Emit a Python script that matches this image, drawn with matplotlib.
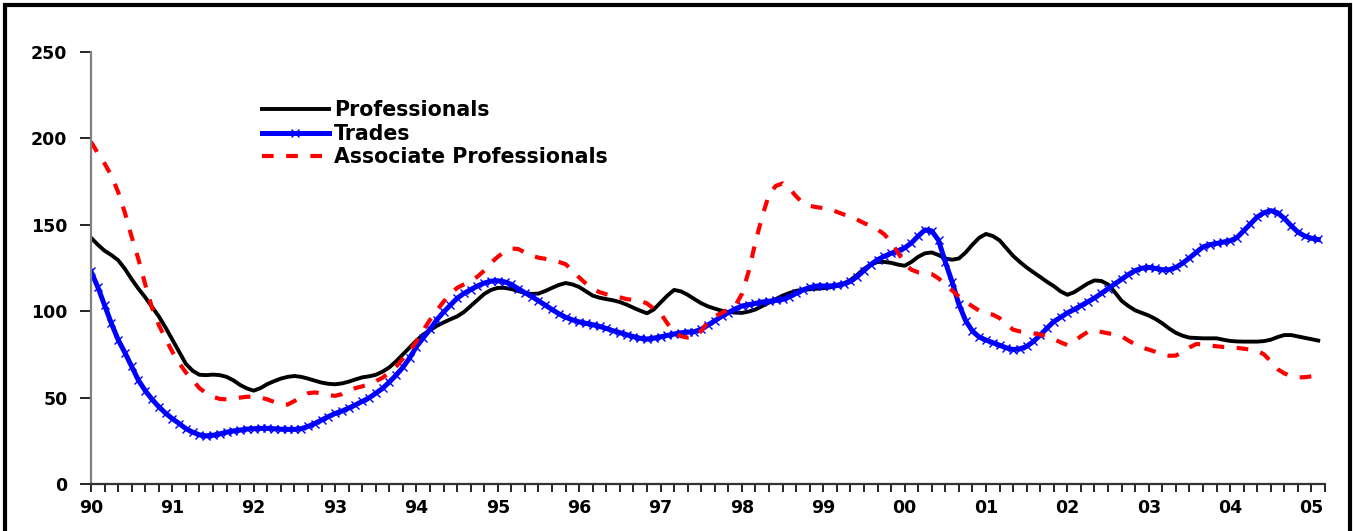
import numpy as np
import matplotlib
matplotlib.use("Agg")
import matplotlib.pyplot as plt
from matplotlib.patches import Rectangle

# monthly index values, Jan 1990 .. Feb 2005 (one row per year)
professionals = [
    142.5, 138.5, 135, 132.5, 129.5, 124.5, 118.5, 113, 108, 102.5, 97, 90.5,
    83.5, 76.5, 69.5, 65.5, 63.2, 63, 63.3, 63, 62, 60, 57.3, 55.3,
    54, 55.5, 57.8, 59.5, 61, 62, 62.5, 62, 61, 59.8, 58.7, 58,
    57.7, 58.2, 59.2, 60.5, 61.7, 62.3, 63.2, 65, 67.5, 71, 75, 79,
    83, 86.5, 89, 91.5, 93.5, 95.3, 97, 99.5, 103, 106.5, 110, 112.3,
    113.5, 113.5, 112.8, 111.7, 110.5, 110, 110.2, 111.7, 113.5, 115.2, 116.3, 115.5,
    114, 111.5, 109, 107.8, 107, 106.3, 105.3, 103.8, 102, 100.3, 98.8, 101,
    105, 109, 112.3, 111.5, 109.5, 107, 104.6, 102.8, 101.5, 100.3, 99.5, 99.2,
    99, 99.8, 101, 103, 105, 107, 109, 110.5, 111.8, 112.4, 112.7, 113,
    113.3, 113.8, 114.6, 116, 118, 121, 124.5, 126.8, 128.5, 128.5, 128, 127,
    126.3, 128.5, 131.5, 133.5, 134, 132.5, 130.5, 129.8, 130.5, 134, 138.5, 142.5,
    144.7, 143.5, 141, 136.5, 132, 128.5, 125.3, 122.5, 119.8, 117, 114.5, 111.5,
    109.5, 111, 113.5, 116, 117.8, 117.5, 115.5, 111, 106, 103, 100.5, 99,
    97.5, 95.5, 93, 90, 87.5, 85.8, 84.7, 84.5, 84.3, 84.3, 84.3, 83.5,
    82.8, 82.5, 82.4, 82.4, 82.4, 82.7, 83.5, 85, 86.2, 86.2, 85.4, 84.6,
    83.8, 83,
]

trades = [
    123, 114, 103.5, 93, 83.5, 76, 68, 60, 54, 49, 44.7, 41,
    37.8, 35, 32, 30, 28.4, 27.9, 28.2, 29, 30, 30.7, 31.2, 31.8,
    32, 32.2, 32.2, 32, 31.7, 31.6, 31.6, 32, 33.3, 35, 37, 39,
    40.8, 42.2, 43.9, 45.8, 47.8, 49.8, 52.5, 55.3, 59, 63, 67.5, 73,
    79.5, 84.5, 89.5, 95, 99.5, 103.5, 107.5, 110.3, 112.5, 114.6, 116.3, 117.4,
    117.6, 117, 115.5, 113, 110.7, 108.5, 106, 103.5, 101, 98.5, 96.5, 95,
    93.8, 93, 92.2, 91.2, 90, 88.7, 87.6, 86.4, 85.3, 84.3, 83.9, 84.4,
    85.2, 86, 86.8, 87.5, 87.9, 88.2, 89.5, 92, 94.5, 97, 99.2, 101.3,
    103, 103.8, 104.5, 105.3, 105.8, 106.2, 106.8, 108.3, 110.3, 112.3, 113.8, 114.5,
    114.6, 114.6, 115, 115.8, 117.2, 120, 123.5, 127, 129.8, 131.8, 133.5, 135,
    136.6, 139.5, 143.5, 147, 146.5, 141, 128.5, 117, 104, 94.5, 88.5, 85,
    83.3, 81.8, 80.3, 78.8, 77.8, 78.2, 79.6, 82.5, 86.2, 90.2, 94, 96.5,
    99, 101, 103.2, 105.4, 107.6, 110.3, 113, 115.8, 118.5, 121.2, 123.5, 124.9,
    125.3, 124.8, 124, 124, 125.3, 127.8, 130.8, 134, 137.2, 138.5, 139.2, 140,
    140.8, 142.5, 146.5, 150.5, 154.5, 157, 158.2, 157, 153.7, 149.5, 145.8, 143.5,
    142.2, 141.5,
]

associate = [
    198, 191.5, 185.5, 178.5, 169, 157, 143, 130, 115.5, 102, 92, 84,
    76.5, 70, 64.5, 60, 55.5, 52.5, 50.5, 49.2, 49, 49.5, 50, 50.5,
    50.5, 50, 49, 47.5, 46, 46, 48, 50.5, 52.5, 53, 52.5, 51.5,
    51, 52, 54, 55.5, 56.5, 58, 59.5, 61.5, 64.5, 68, 72.5, 77,
    82.5, 89, 95, 100.5, 105.5, 110, 113.5, 115.5, 117.5, 120, 123.5, 128,
    131.5, 134.5, 136.3, 136, 134, 132, 131, 130.3, 129.5, 128.5, 127.2, 123.5,
    119.5, 116, 113, 111, 109.8, 108.8, 108, 107, 106.5, 106, 104.5, 101.5,
    98.8, 93, 87.5, 85.5, 84.7, 85, 88.5, 94, 97, 99, 101, 103,
    110, 123, 140, 155, 167.5, 172.5, 174, 171, 166.5, 162.5, 161, 160.2,
    159.7, 159, 157.5, 156, 154.8, 153, 151, 149.3, 147.3, 144.5, 140, 134,
    127.5, 124, 122.5, 122.2, 121.5, 119, 115.5, 112, 108.5, 105.5, 102.8, 100.3,
    98.8, 98, 96, 92.5, 89.3, 88.3, 87.8, 87.2, 86.5, 85.5, 83.8, 82,
    80.4, 82.5, 85.5, 88, 88.8, 88, 87.2, 86.5, 85.5, 83, 80.8, 79,
    77.8, 76.5, 75, 74.2, 74.3, 76.5, 79, 81, 80.8, 80.2, 79.7, 79.3,
    79.1, 78.8, 78.3, 77.8, 77.2, 75, 71, 66.5, 64, 62.5, 61.7, 61.8,
    62.3, 63,
]

year_labels = ['90', '91', '92', '93', '94', '95', '96', '97', '98', '99',
               '00', '01', '02', '03', '04', '05']

months = np.arange(len(professionals)) / 12.0

plt.rcParams['font.family'] = ['DejaVu Sans']
plt.rcParams['font.weight'] = 'bold'

fig = plt.figure(figsize=(13.53, 5.31), dpi=100)
ax = fig.add_axes([91 / 1353, 1 - 484 / 531, (1325 - 91) / 1353, (484 - 52) / 531])

ax.plot(months, professionals, color='black', lw=2.8, label='Professionals')
ax.plot(months, trades, color='#0000ff', lw=3.6, marker='x', ms=6,
        mew=1.0, mec='#0000ff', label='Trades')
ax.plot(months, associate, color='#ff0000', lw=3.0, dashes=(2.8, 3.0),
        label='Associate Professionals')

ax.set_ylim(0, 250)
ax.set_yticks(np.arange(0, 251, 50))
ax.set_xlim(0, 91 / 6)
ax.set_xticks(np.arange(0, 92) / 6)
ax.set_xticklabels([year_labels[i // 6] if i % 6 == 0 else '' for i in range(92)])

ax.tick_params(axis='y', direction='out', length=8, width=1.2, pad=9,
               labelsize=12.5, colors='black')
ax.tick_params(axis='x', direction='out', length=6, width=1.2, pad=5,
               labelsize=12.5, colors='black')

for side in ['top', 'right']:
    ax.spines[side].set_visible(False)
ax.spines['left'].set_color('#808080')
ax.spines['left'].set_linewidth(1.6)
ax.spines['bottom'].set_color('#333333')
ax.spines['bottom'].set_linewidth(1.6)

leg = ax.legend(loc='upper left', bbox_to_anchor=(262 / 1353, 1 - 100 / 531),
                bbox_transform=fig.transFigure, frameon=False, fontsize=14.8,
                handlelength=3.25, handletextpad=0.25, labelspacing=0.18,
                numpoints=1, borderpad=0, borderaxespad=0)

# black frame round the whole chart
fig.patches.append(Rectangle((5 / 1353, -0.05), (1350 - 5) / 1353, 1.05 - 5.5 / 531,
                             transform=fig.transFigure, fill=False,
                             edgecolor='black', lw=3.0, zorder=10))

fig.savefig('out.png', dpi=100)
